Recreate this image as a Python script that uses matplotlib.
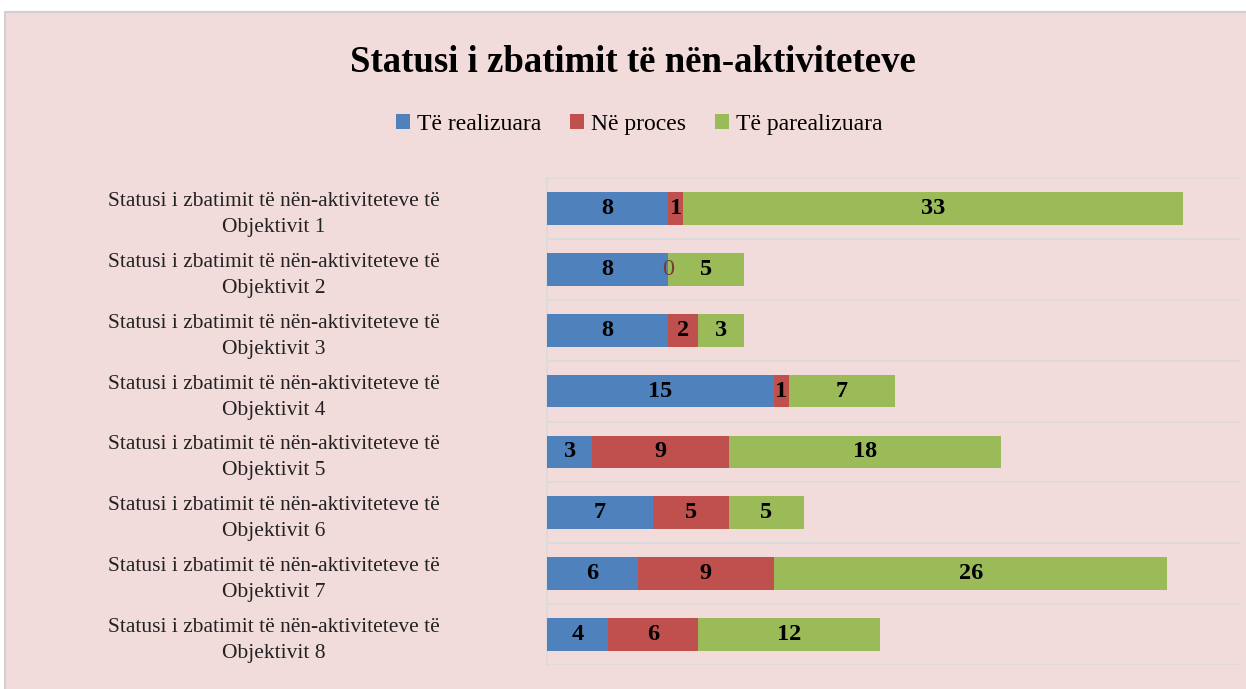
import matplotlib
matplotlib.use("Agg")
import matplotlib.pyplot as plt
from matplotlib.patches import Rectangle
import numpy as np

plt.rcParams['font.family'] = ['Liberation Serif', 'DejaVu Serif']

categories = [f"Statusi i zbatimit të nën-aktiviteteve të\nObjektivit {i}" for i in range(1, 9)]
realizuara = [8, 8, 8, 15, 3, 7, 6, 4]
proces = [1, 0, 2, 1, 9, 5, 9, 6]
parealizuara = [33, 5, 3, 7, 18, 5, 26, 12]
series_names = ["Të realizuara", "Në proces", "Të parealizuara"]
colors = ["#4F81BD", "#C0504D", "#9BBB59"]
bg = "#F2DCDB"

fig = plt.figure(figsize=(12.46, 6.89), dpi=100, facecolor="white")
fig.patches.append(Rectangle((5/1246, -0.01), 1.02, 1 - 12/689 + 0.01,
                             transform=fig.transFigure, facecolor=bg,
                             edgecolor="#D0D0D0", linewidth=1.5, zorder=-10))

ax = fig.add_axes([547/1246, 1 - 665/689, (1240 - 547)/1246, (665 - 178)/689])
ax.set_facecolor(bg)
ax.patch.set_alpha(0)

y = np.arange(len(categories))
left = np.zeros(len(categories))
for vals, name, c in zip([realizuara, proces, parealizuara], series_names, colors):
    ax.barh(y, vals, left=left, height=0.54, color=c, label=name, zorder=3)
    for yi, l, v in zip(y, left, vals):
        if v == 0:
            ax.text(l + v/2, yi, str(v), ha='center', va='center', fontsize=17.5,
                    color='#7A3B33', zorder=4)
        else:
            ax.text(l + v/2, yi, str(v), ha='center', va='center', fontsize=17.5,
                    fontweight='bold', color='black', zorder=4)
    left = left + np.array(vals)

ax.set_xlim(0, 45.8)
ax.set_ylim(len(categories) - 0.5, -0.5)
ax.set_yticks(y)
ax.set_yticklabels(categories, ha='center', fontsize=15.5, color='#222222',
                   linespacing=1.5)
ax.tick_params(axis='y', length=0, pad=197)
ax.set_xticks([])
ax.set_yticks(np.arange(-0.5, len(categories)), minor=True)
ax.tick_params(axis='y', which='minor', length=0)
ax.grid(True, axis='y', which='minor', color='#DADADA', linewidth=1.2, zorder=1)
ax.grid(False, axis='y', which='major')
for s in ['top', 'right', 'bottom']:
    ax.spines[s].set_visible(False)
ax.spines['left'].set_color('#DADADA')
ax.spines['left'].set_linewidth(1.2)

fig.text(0.508, 0.91, "Statusi i zbatimit të nën-aktiviteteve", ha='center',
         va='center', fontsize=26.5, fontweight='bold')

handles, labels = ax.get_legend_handles_labels()
fig.legend(handles, labels, loc='center', bbox_to_anchor=(0.513, 0.819), ncol=3,
           frameon=False, fontsize=17, handlelength=0.6, handleheight=0.6,
           handletextpad=0.3, columnspacing=1.2)

fig.savefig("out.png", dpi=100, facecolor=fig.get_facecolor())
